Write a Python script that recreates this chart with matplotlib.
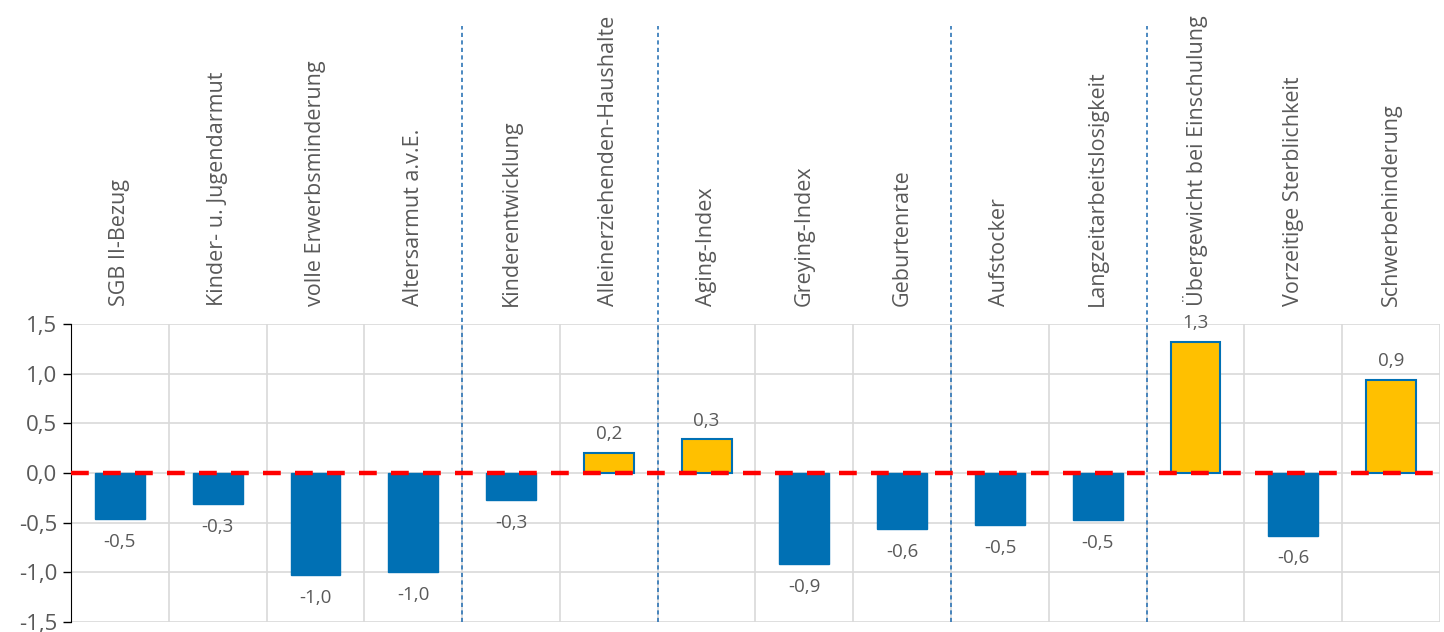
import matplotlib.pyplot as plt
import numpy as np

categories = ["SGB II-Bezug", "Kinder- u. Jugendarmut", "volle Erwerbsminderung",
              "Altersarmut a.v.E.", "Kinderentwicklung", "Alleinerziehenden-Haushalte",
              "Aging-Index", "Greying-Index", "Geburtenrate", "Aufstocker",
              "Langzeitarbeitslosigkeit", "Übergewicht bei Einschulung",
              "Vorzeitige Sterblichkeit", "Schwerbehinderung"]
values = [-0.46, -0.31, -1.03, -1.0, -0.27, 0.2, 0.34, -0.92, -0.56, -0.52,
          -0.47, 1.32, -0.63, 0.94]
group_breaks = [4, 6, 9, 11]  # separators after these many categories

plt.rcParams['font.family'] = ['Open Sans', 'DejaVu Sans']
grey = "#595959"
blue = "#0070B4"
yellow = "#FFC000"

fig = plt.figure(figsize=(14.44, 6.32), dpi=100)
ax = fig.add_axes([71/1444, 10/632, 1369/1444, 298/632])

x = np.arange(len(categories))
for xi, v in zip(x, values):
    if v >= 0:
        ax.bar(xi, v, width=0.51, color=yellow, edgecolor=blue, linewidth=1.5, zorder=2)
    else:
        ax.bar(xi, v, width=0.51, color=blue, edgecolor=blue, linewidth=1, zorder=2)
    lab = f"{round(v, 1):.1f}".replace(".", ",")
    if v >= 0:
        ax.annotate(lab, (xi, v), xytext=(0, 7), textcoords="offset points",
                    ha="center", va="bottom", fontsize=13.5, color=grey)
    else:
        ax.annotate(lab, (xi, v), xytext=(0, -10), textcoords="offset points",
                    ha="center", va="top", fontsize=13.5, color=grey)

ax.axhline(0, color="#FF0000", linewidth=3.2, linestyle=(0, (4, 3.2)), zorder=3)

ax.set_xlim(-0.5, len(categories) - 0.5)
ax.set_ylim(-1.5, 1.5)
ticks = np.arange(-1.5, 1.51, 0.5)
ax.set_yticks(ticks)
ax.set_yticklabels([f"{t:.1f}".replace(".", ",") for t in ticks],
                   color=grey, fontsize=16)
ax.set_xticks([])

# grid
for t in ticks:
    ax.axhline(t, color="#D9D9D9", linewidth=1.2, zorder=0)
for b in np.arange(0.5, len(categories), 1):
    ax.axvline(b, color="#D9D9D9", linewidth=1.2, zorder=0)

for s in ["top", "right", "bottom"]:
    ax.spines[s].set_visible(False)
ax.spines["left"].set_color("black")
ax.tick_params(axis="y", direction="out", length=6, color="black", width=1, pad=4)

# group separators
for g in group_breaks:
    ax.plot([g - 0.5, g - 0.5], [-1.5, 4.5], color="#2E75B6", linewidth=1.2,
            linestyle=(0, (2.5, 2)), clip_on=False, zorder=1)

# category labels above plot
for xi, c in zip(x, categories):
    ax.text(xi, 1.0 + 18/298, c, transform=ax.get_xaxis_transform(),
            rotation=90, ha="center", va="bottom", fontsize=15.5, color=grey)

fig.savefig("out.png", dpi=100)
